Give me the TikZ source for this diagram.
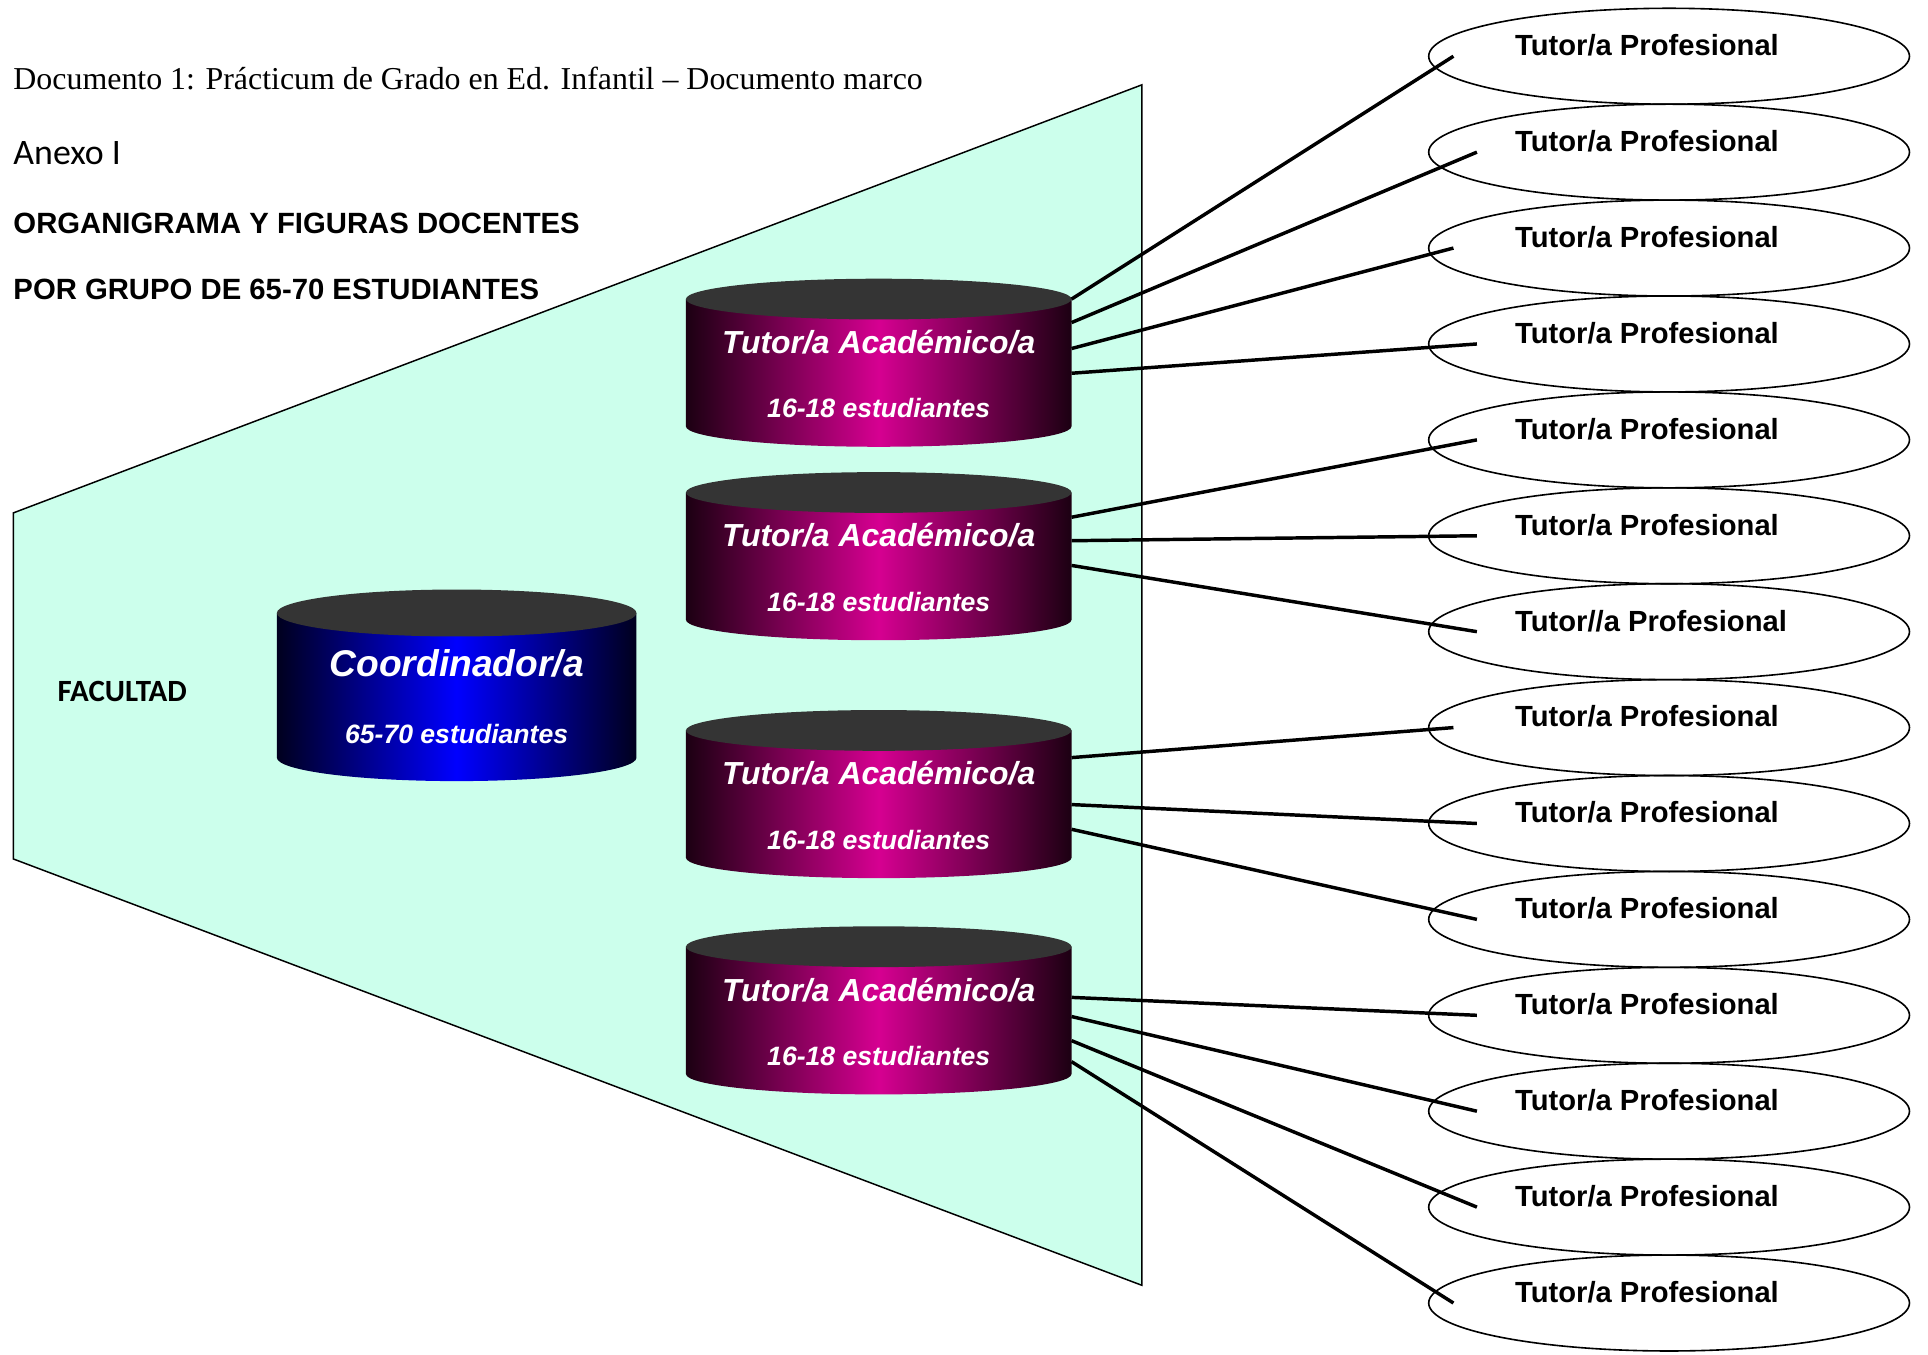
\documentclass[tikz,border=0pt]{standalone}
\usepackage{fontspec}
\setmainfont{Liberation Serif}
\newfontfamily\arialf{Liberation Sans}
\newfontfamily\calibrif{Carlito}
\usetikzlibrary{shapes.geometric,calc}
\definecolor{mint}{RGB}{204,255,236}
\definecolor{topgray}{RGB}{52,52,52}
\definecolor{magmid}{RGB}{214,0,145}
\definecolor{magedge}{RGB}{28,0,18}
\definecolor{bluemid}{RGB}{0,0,255}
\definecolor{blueedge}{RGB}{0,0,30}
\newcommand{\drawcyl}[7]{%
  \shade[left color=#6, right color=#6, middle color=#7]
    (#1-#4,#2) -- (#1-#4,#2+#3) arc[start angle=180, end angle=0, x radius=#4, y radius=#5]
    -- (#1+#4,#2) -- cycle;
  \fill[topgray] (#1,#2) ellipse[x radius=#4, y radius=#5];
}
\begin{document}
\begin{tikzpicture}[x=1pt,y=-1pt,
  every node/.style={inner sep=0pt, outer sep=0pt},
  prof/.style={draw=black, line width=1.3pt, ellipse, minimum width=389pt, minimum height=77.6pt},
  proftext/.style={anchor=base west, font=\arialf\bfseries\fontsize{23.6}{28}\selectfont},
  conn/.style={line width=2.8pt, draw=black},
  cylbody/.style={minimum width=312pt, minimum height=103pt},
  cyltext/.style={anchor=base, text=white, font=\arialf\bfseries\itshape\fontsize{25.8}{30}\selectfont},
  cylsub/.style={anchor=base, text=white, font=\arialf\bfseries\itshape\fontsize{21.5}{26}\selectfont},
  headbold/.style={anchor=base west, font=\arialf\bfseries\fontsize{23.7}{28}\selectfont},
]
\useasboundingbox (0,0) rectangle (1560,1095.6);

% faculty trapezoid
\filldraw[fill=mint, draw=black, line width=1.2pt]
  (10.8,415) -- (924,68.6) -- (924,1040) -- (10.8,695) -- cycle;

% header texts
\node[anchor=base west, font=\fontsize{25.8}{30}\selectfont] (title) at (10.9,72.3)
  {Documento 1: Prácticum de Grado en Ed. Infantil – Documento marco};
\node[anchor=base west, font=\calibrif\fontsize{29}{34}\selectfont] (anexo) at (10.9,132.7) {Anexo I};
\node[headbold] (org) at (10.9,189.3) {ORGANIGRAMA Y FIGURAS DOCENTES};
\node[headbold] (grupo) at (10.9,242.7) {POR GRUPO DE 65-70 ESTUDIANTES};
\node[anchor=base west, font=\calibrif\bfseries\fontsize{25}{30}\selectfont] (facultad) at (46.7,567.2) {FACULTAD};

% coordinator cylinder
\drawcyl{369.5}{496}{117}{145.5}{19}{blueedge}{bluemid}
\node[minimum width=291pt, minimum height=117pt] (coord) at (369.5,554.5) {};
\node[anchor=base, text=white, font=\arialf\bfseries\itshape\fontsize{30.1}{34}\selectfont] (coordt) at (369.5,547) {Coordinador/a};
\node[anchor=base, text=white, font=\arialf\bfseries\itshape\fontsize{21.5}{26}\selectfont] (coords) at (369.5,601.4) {65-70 estudiantes};

% academic tutor cylinders
\foreach \k/\t in {1/242,2/398.5,3/591,4/766}{
  \drawcyl{711}{\t}{103}{156}{16.5}{magedge}{magmid}
  \node[cylbody] (c\k) at (711,\t+51.5) {};
  \node[cyltext] (ct\k) at (711,\t+44) {Tutor/a Académico/a};
  \node[cylsub] (cs\k) at (711,\t+96) {16-18 estudiantes};
}

% professional tutor ellipses
\foreach \i in {1,...,14}{
  \node[prof] (e\i) at (1350.5,{45.5+77.6*(\i-1)}) {};
}
\foreach \i in {1,...,14}{
  \ifnum\i=7
    \node[proftext] (t\i) at (1226,{45+77.6*(\i-1)}) {Tutor//a Profesional};
  \else
    \node[proftext] (t\i) at (1226,{45+77.6*(\i-1)}) {Tutor/a Profesional};
  \fi
}

% connectors
\foreach \c/\o/\e/\x in {1/0/1/20, 1/19/2/39, 1/40/3/20, 1/60/4/39,
                         2/20/5/39, 2/39/6/39, 2/59/7/39,
                         3/22/8/20, 3/60/9/39, 3/80/10/39,
                         4/41/11/39, 4/56.5/12/39, 4/76/13/39, 4/93/14/20}{
  \draw[conn] ([yshift=-\o pt]c\c.north east) -- ([xshift=\x pt]e\e.west);
}
\end{tikzpicture}
\end{document}
